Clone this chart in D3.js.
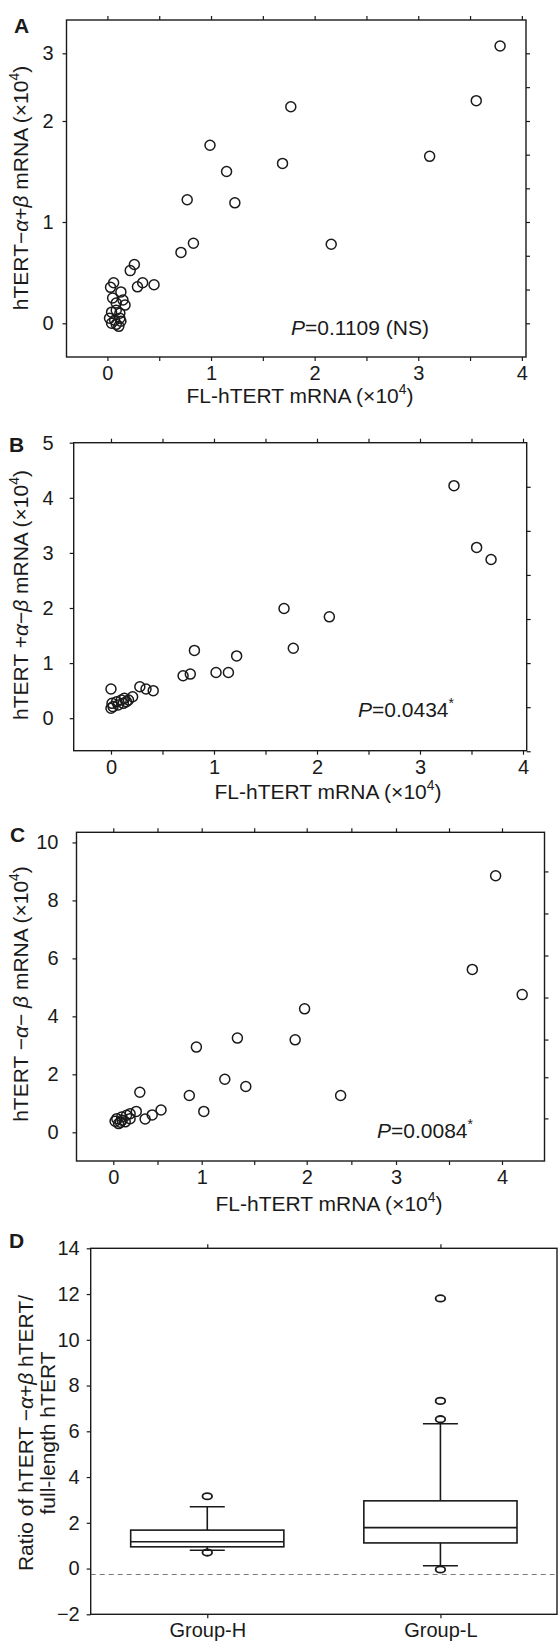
<!DOCTYPE html>
<html>
<head>
<meta charset="utf-8">
<script src="https://cdn.jsdelivr.net/npm/d3@7"></script>
<style>
  body { margin: 0; background: #fff; }
  svg { display: block; font-family: 'Liberation Sans', Arial, sans-serif; color: #1a1a1a; }
  .tick text { font-size: 20px; }
  .tick line { stroke: #1a1a1a; stroke-width: 1.2; }
</style>
</head>
<body>
<svg id="fig" width="558" height="1641"></svg>
<script>
/* global d3 */
// A: hTERT -a+b vs full-length hTERT (x10^4)
const aFL = [3.79, 3.56, 1.77, 0.99, 3.11, 1.69, 1.15, 0.77, 1.23, 0.83, 0.71, 2.16,
  0.26, 0.22, 0.06, 0.29, 0.34, 0.45, 0.03, 0.13, 0.05, 0.15, 0.085, 0.17, 0.04,
  0.085, 0.12, 0.02, 0.07, 0.12, 0.04, 0.085, 0.13, 0.11]
const aSplice = [3.11, 2.30, 2.21, 1.76, 1.65, 1.58, 1.50, 1.22, 1.19, 0.79, 0.70, 0.78,
  0.58, 0.52, 0.40, 0.36, 0.40, 0.38, 0.355, 0.31, 0.25, 0.23, 0.20, 0.18, 0.11,
  0.13, 0.10, 0.05, 0.03, 0.05, 0.0, -0.01, 0.02, -0.03]

// B: hTERT +a-b
const bFL = [3.33, 3.55, 3.69, 1.68, 2.12, 1.77, 0.81, 1.22, 1.02, 1.14, 0.70, 0.77,
  0.28, 0.34, 0.41, 0.0, 0.21, 0.17, 0.01, 0.055, 0.10, 0.13, 0.02, 0.07, 0.12, 0.0, 0.15]
const bSplice = [4.22, 3.10, 2.88, 1.99, 1.84, 1.27, 1.23, 1.13, 0.83, 0.83, 0.77, 0.80,
  0.57, 0.53, 0.50, 0.53, 0.39, 0.33, 0.27, 0.30, 0.33, 0.36, 0.21, 0.24, 0.27, 0.18, 0.30]

// C: hTERT -a-b
const cFL = [3.94, 3.72, 4.19, 1.98, 1.89, 1.34, 0.94, 1.22, 1.42, 2.38, 0.86, 1.02,
  0.30, 0.54, 0.44, 0.36, 0.26, 0.19, 0.04, 0.095, 0.15, 0.06, 0.135, 0.19, 0.02, 0.10, 0.08]
const cSplice = [8.85, 5.62, 4.75, 4.26, 3.19, 3.25, 2.94, 1.83, 1.58, 1.27, 1.27, 0.72,
  1.38, 0.77, 0.60, 0.46, 0.72, 0.64, 0.47, 0.53, 0.59, 0.30, 0.36, 0.47, 0.38, 0.42, 0.35]

// D: ratio box plots
const groups = ['Group-H', 'Group-L']
const boxQ1 = [0.95, 1.12]
const boxMedian = [1.17, 1.79]
const boxQ3 = [1.68, 2.96]
const whiskerLow = [0.80, 0.12]
const whiskerHigh = [2.70, 6.33]
const outliersH = [3.16, 0.70]
const outliersL = [11.81, 7.33, 6.53, -0.04]
const refLine = -0.26

const svg = d3.select('#fig')
const ink = '#1a1a1a'

const intLabel = d => (Math.abs(d - Math.round(d)) < 1e-9 ? d3.format('d')(d) : '')
const first = a => a[0]
const last = a => a[a.length - 1]

// text with italic greek letters and superscripts
let rich = function (sel, parts, size) {
  let lift = 0
  parts.forEach(p => {
    const t = sel.append('tspan').text(p.t)
    if (p.i) t.attr('font-style', 'italic')
    if (p.sup) {
      t.attr('font-size', size * 0.66).attr('dy', -size * 0.42)
      lift = size * 0.42
    } else if (lift) {
      t.attr('dy', lift)
      lift = 0
    }
  })
}

let label = function (x, y, parts, opts = {}) {
  const size = opts.size || 21
  const t = svg.append('text')
    .attr('x', x).attr('y', y)
    .attr('font-size', size)
    .attr('fill', ink)
    .attr('text-anchor', opts.anchor || 'start')
  if (opts.rotate) t.attr('transform', `rotate(-90,${x},${y})`)
  if (opts.bold) t.attr('font-weight', 'bold')
  rich(t, parts, size)
  return t
}

let drawScatter = function (p) {
  const g = svg.append('g')
  const xl = first(p.x.range())
  const xr = last(p.x.range())
  const yb = first(p.y.range())
  const yt = last(p.y.range())

  g.append('g').attr('transform', `translate(0,${yb})`)
    .call(d3.axisBottom(p.x).tickValues(p.xTicks).tickSize(4).tickPadding(5).tickFormat(intLabel))
  g.append('g').attr('transform', `translate(0,${yt})`)
    .call(d3.axisTop(p.x).tickValues(p.xTicks).tickSize(4).tickFormat(''))
  g.append('g').attr('transform', `translate(${xl},0)`)
    .call(d3.axisLeft(p.y).tickValues(p.yTicks).tickSize(4).tickPadding(p.pad).tickFormat(intLabel))
  g.append('g').attr('transform', `translate(${xr},0)`)
    .call(d3.axisRight(p.y).tickValues(p.yRight).tickSize(4).tickFormat(''))
  g.selectAll('.domain').remove()

  g.append('rect')
    .attr('x', xl).attr('y', yt)
    .attr('width', xr - xl).attr('height', yb - yt)
    .attr('fill', 'none').attr('stroke', ink).attr('stroke-width', 1.4)

  g.selectAll('circle.pt')
    .data(p.xs.map((v, i) => [v, p.ys[i]]))
    .enter().append('circle')
    .attr('class', 'pt')
    .attr('cx', d => p.x(d[0]))
    .attr('cy', d => p.y(d[1]))
    .attr('r', 5)
    .attr('fill', 'none')
    .attr('stroke', ink)
    .attr('stroke-width', 1.5)
}

const xTitle = [{ t: 'FL-hTERT mRNA (×10' }, { t: '4', sup: true }, { t: ')' }]
const halfTicks = d3.range(0, 4.01, 0.5)

// ---- A ----
const xA = d3.scaleLinear().domain([-0.395, 4.04]).range([66.5, 526])
const yA = d3.scaleLinear().domain([-1 / 3, 0, 1, 2, 3, 3.5]).range([357, 323.3, 222, 121, 53.3, 20])
drawScatter({
  x: xA, y: yA, xs: aFL, ys: aSplice, xTicks: halfTicks,
  yTicks: [0, 1, 2, 3], yRight: [0, 1 / 3, 2 / 3, 1, 4 / 3, 5 / 3, 2, 2.5, 3], pad: 9
})
label(14, 33, [{ t: 'A' }], { bold: true })
label(300, 403, xTitle, { anchor: 'middle' })
label(28, 188, [{ t: 'hTERT−' }, { t: 'α', i: true }, { t: '+' }, { t: 'β', i: true },
  { t: ' mRNA (×10' }, { t: '4', sup: true }, { t: ')' }], { anchor: 'middle', rotate: true })
label(291, 335, [{ t: 'P', i: true }, { t: '=0.1109 (NS)' }])

// ---- B ----
const xB = d3.scaleLinear().domain([-0.362, 4.036]).range([73.7, 526.7])
const yB = d3.scaleLinear().domain([-0.59, 5]).range([750.7, 442.7])
drawScatter({
  x: xB, y: yB, xs: bFL, ys: bSplice, xTicks: halfTicks,
  yTicks: [0, 1, 2, 3, 4, 5], yRight: [-0.6, 0.2, 1.0, 1.8, 2.6, 3.4, 4.2], pad: 16
})
label(9, 452, [{ t: 'B' }], { bold: true })
label(328, 799, xTitle, { anchor: 'middle' })
label(28, 595, [{ t: 'hTERT +' }, { t: 'α', i: true }, { t: '−' }, { t: 'β', i: true },
  { t: ' mRNA (×10' }, { t: '4', sup: true }, { t: ')' }], { anchor: 'middle', rotate: true })
label(358, 717, [{ t: 'P', i: true }, { t: '=0.0434' }, { t: '*', sup: true }])

// ---- C ----
const xC = d3.scaleLinear().domain([-0.41, 0, 1, 2, 3, 4, 4.4]).range([76.5, 113.3, 201.7, 306.7, 396, 502, 544.5])
const yC = d3.scaleLinear().domain([-0.99, 10.35]).range([1161, 832.3])
drawScatter({
  x: xC, y: yC, xs: cFL, ys: cSplice, xTicks: halfTicks,
  yTicks: [0, 2, 4, 6, 8, 10], yRight: [0.48, 1.9, 3.2, 4.65, 6.1, 7.55, 9], pad: 14
})
label(10, 842, [{ t: 'C' }], { bold: true })
label(329, 1211, xTitle, { anchor: 'middle' })
label(28, 994, [{ t: 'hTERT −' }, { t: 'α', i: true }, { t: '− ' }, { t: 'β', i: true },
  { t: ' mRNA (×10' }, { t: '4', sup: true }, { t: ')' }], { anchor: 'middle', rotate: true })
label(377, 1138, [{ t: 'P', i: true }, { t: '=0.0084' }, { t: '*', sup: true }])

// ---- D ----
const xD = d3.scalePoint().domain(groups).range([90.7, 557]).padding(0.5)
const yD = d3.scaleLinear().domain([-2, 14]).range([1614.3, 1248.3])
const gD = svg.append('g')
gD.append('g').attr('transform', `translate(0,${yD(-2)})`)
  .call(d3.axisBottom(xD).tickSize(4).tickPadding(5))
gD.append('g').attr('transform', `translate(0,${yD(14)})`)
  .call(d3.axisTop(xD).tickSize(4).tickFormat(''))
gD.append('g').attr('transform', `translate(90.7,0)`)
  .call(d3.axisLeft(yD).tickValues(d3.range(-2, 14.1, 2)).tickSize(4).tickPadding(7).tickFormat(d3.format('d')))
gD.selectAll('.domain').remove()
gD.append('rect')
  .attr('x', 90.7).attr('y', yD(14))
  .attr('width', 557 - 90.7).attr('height', yD(-2) - yD(14))
  .attr('fill', 'none').attr('stroke', ink).attr('stroke-width', 1.4)

gD.append('line')
  .attr('x1', 90.7).attr('x2', 557)
  .attr('y1', yD(refLine)).attr('y2', yD(refLine))
  .attr('stroke', '#555').attr('stroke-width', 0.8).attr('stroke-dasharray', '5,4')

const boxW = xD.step() * 0.657
const capW = 35
const boxes = groups.map((g, i) => ({
  g, q1: boxQ1[i], med: boxMedian[i], q3: boxQ3[i], lo: whiskerLow[i], hi: whiskerHigh[i],
  out: i === 0 ? outliersH : outliersL
}))
const bg = gD.selectAll('g.box').data(boxes).enter().append('g')
  .attr('class', 'box')
  .attr('stroke', ink).attr('stroke-width', 1.6).attr('fill', 'none')
bg.append('line')
  .attr('x1', d => xD(d.g)).attr('x2', d => xD(d.g))
  .attr('y1', d => yD(d.q3)).attr('y2', d => yD(d.hi))
bg.append('line')
  .attr('x1', d => xD(d.g)).attr('x2', d => xD(d.g))
  .attr('y1', d => yD(d.q1)).attr('y2', d => yD(d.lo))
bg.append('line')
  .attr('x1', d => xD(d.g) - capW / 2).attr('x2', d => xD(d.g) + capW / 2)
  .attr('y1', d => yD(d.hi)).attr('y2', d => yD(d.hi))
bg.append('line')
  .attr('x1', d => xD(d.g) - capW / 2).attr('x2', d => xD(d.g) + capW / 2)
  .attr('y1', d => yD(d.lo)).attr('y2', d => yD(d.lo))
bg.append('rect')
  .attr('x', d => xD(d.g) - boxW / 2).attr('width', boxW)
  .attr('y', d => yD(d.q3)).attr('height', d => yD(d.q1) - yD(d.q3))
bg.append('line')
  .attr('x1', d => xD(d.g) - boxW / 2).attr('x2', d => xD(d.g) + boxW / 2)
  .attr('y1', d => yD(d.med)).attr('y2', d => yD(d.med))
bg.selectAll('ellipse')
  .data(d => d.out.map(v => ({ g: d.g, v })))
  .enter().append('ellipse')
  .attr('cx', d => xD(d.g)).attr('cy', d => yD(d.v))
  .attr('rx', 4.8).attr('ry', 3.2)
  .attr('stroke-width', 1.8)

label(9, 1248, [{ t: 'D' }], { bold: true })
label(33, 1433, [{ t: 'Ratio of hTERT −' }, { t: 'α', i: true }, { t: '+' }, { t: 'β', i: true },
  { t: ' hTERT/' }], { anchor: 'middle', rotate: true })
label(55, 1433, [{ t: 'full-length hTERT' }], { anchor: 'middle', rotate: true })
</script>
</body>
</html>
